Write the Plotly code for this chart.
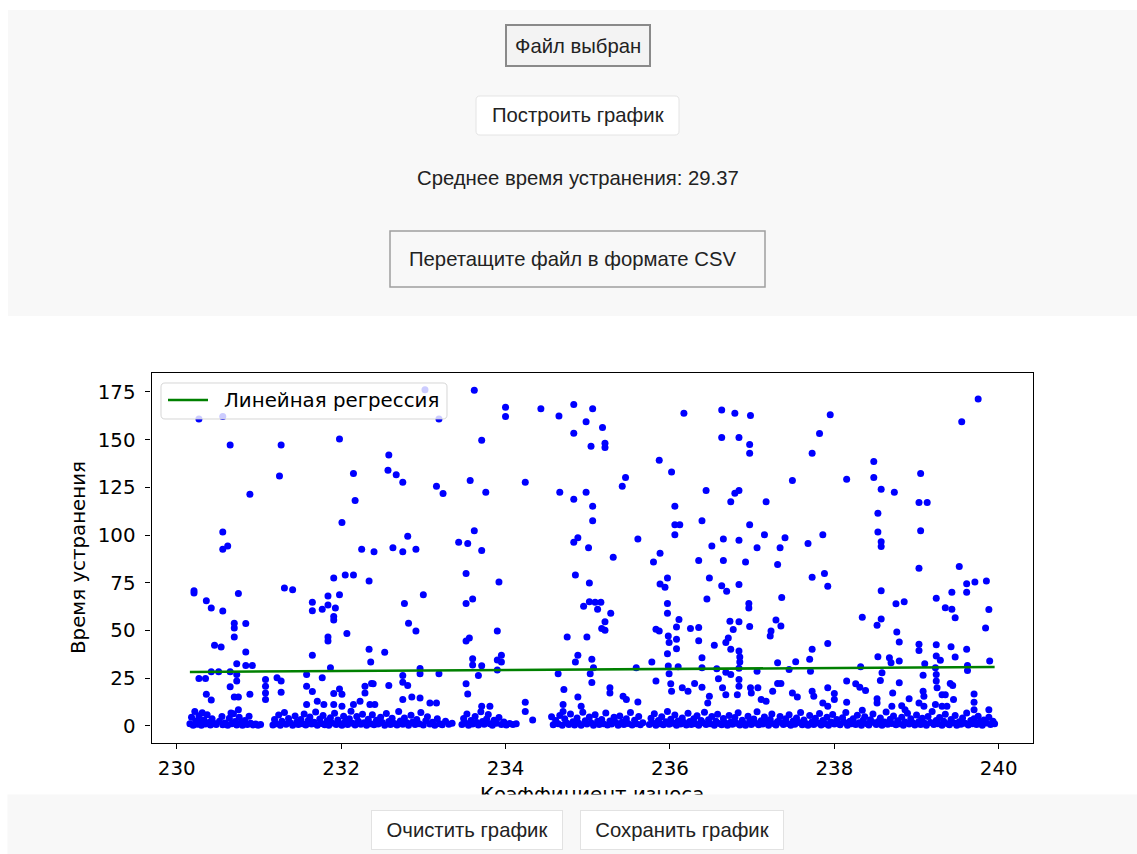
import numpy as np
import plotly.graph_objects as go

W, H = 1137, 854

# Wear coefficient / repair time pairs, upper part of the cloud (time > ~80)
points_top = [
    (230.27, 160.8), (230.56, 162.2), (230.65, 147.2), (231.27, 147.2), (231.98, 150.4),
    (231.25, 130.9), (232.15, 132.3), (230.89, 121.4), (232.17, 118.1), (232.01, 106.5),
    (230.56, 101.6), (230.62, 94.2), (230.56, 92.6), (232.25, 92.6), (232.40, 91.2),
    (233.02, 176.2), (233.62, 175.9), (233.19, 160.8), (234.00, 167.0), (234.00, 162.2),
    (234.43, 166.2), (234.65, 162.4), (234.83, 168.5), (235.06, 166.2), (234.98, 159.4),
    (234.83, 153.4), (235.04, 146.5), (233.71, 149.7), (232.58, 142.0), (232.57, 133.9),
    (232.67, 131.6), (232.75, 127.7), (233.16, 125.6), (233.24, 121.8), (233.57, 128.6),
    (233.76, 122.4), (234.24, 127.7), (234.66, 122.4), (234.83, 118.8), (234.98, 122.4),
    (235.06, 115.1), (235.06, 107.5), (232.81, 99.4), (232.63, 93.3), (232.75, 91.2),
    (232.91, 92.6), (233.43, 96.2), (233.54, 95.5), (233.62, 102.3), (233.71, 91.9),
    (234.83, 96.2), (234.88, 98.6), (235.01, 93.3),
    (235.18, 156.4), (235.21, 148.1), (235.21, 145.9), (236.17, 163.9), (236.63, 165.5),
    (236.79, 163.9), (236.98, 162.7), (236.63, 151.1), (236.84, 151.1), (236.97, 147.5),
    (236.97, 142.9), (237.73, 142.9), (235.87, 139.2), (236.02, 133.0), (235.46, 130.2),
    (235.42, 125.6), (237.49, 128.6), (236.44, 123.4), (236.79, 121.9), (236.84, 123.4),
    (236.74, 117.4), (237.17, 117.4), (236.06, 115.1), (236.06, 105.4), (236.12, 105.4),
    (236.39, 107.5), (236.97, 105.4), (236.06, 100.2), (237.15, 100.2), (237.40, 98.6),
    (235.61, 97.9), (236.65, 97.9), (236.84, 97.2), (236.51, 94.2), (237.06, 93.3),
    (237.34, 93.3), (237.68, 95.5), (235.88, 90.4), (235.80, 85.9), (235.31, 88.4),
    (236.35, 86.7), (236.65, 86.7), (236.92, 85.9), (237.31, 84.5),
    (239.75, 171.3), (239.55, 159.4), (237.95, 163.1), (237.82, 153.2), (238.48, 138.5),
    (238.48, 130.2), (238.15, 129.3), (238.57, 124.0), (238.73, 122.4), (239.05, 132.3),
    (239.03, 117.0), (239.13, 117.0), (238.53, 111.4), (238.53, 101.6), (239.05, 102.3),
    (238.57, 96.5), (238.57, 94.0), (237.86, 100.2), (239.03, 82.6), (239.52, 83.5),
]

# Middle part of the cloud (time ~8..80)
points_mid = [
    (230.21, 70.8), (230.21, 69.6), (230.75, 69.4), (230.36, 65.5), (230.42, 61.7),
    (230.56, 60.1), (230.70, 53.8), (230.70, 51.3), (230.84, 53.6), (230.70, 46.5),
    (230.46, 42.2), (230.54, 41.3), (230.84, 38.6), (230.73, 32.5), (230.84, 31.6),
    (230.92, 31.6), (231.31, 72.2), (231.41, 71.3), (231.91, 77.5), (232.05, 79.1),
    (232.15, 79.1), (232.34, 75.9), (231.84, 68.0), (231.98, 68.7), (231.65, 64.8),
    (231.65, 60.3), (231.77, 61.1), (231.84, 63.3), (231.93, 61.7), (231.91, 57.3),
    (231.91, 55.4), (232.07, 48.3), (231.84, 46.5), (231.84, 44.4), (231.65, 36.9),
    (232.34, 40.1), (232.36, 33.4), (231.87, 30.4),
    (230.27, 24.8), (230.35, 24.8), (230.42, 28.3), (230.51, 28.3), (230.65, 28.3),
    (230.73, 26.9), (230.73, 23.4), (230.65, 20.4), (230.36, 16.5), (230.42, 13.5),
    (230.70, 15.1), (230.75, 15.1), (230.89, 16.5), (231.08, 24.2), (231.08, 20.7),
    (231.08, 17.2), (231.08, 13.7), (231.22, 25.1), (231.27, 23.4), (231.27, 17.6),
    (231.58, 26.9), (231.58, 20.7), (231.65, 17.9), (231.77, 25.1), (231.91, 16.9),
    (232.01, 16.5), (231.98, 19.3), (232.29, 20.7), (232.29, 17.2), (232.37, 22.1),
    (231.58, 11.1), (231.71, 12.8), (231.79, 11.1), (231.91, 11.1), (232.01, 10.2),
    (232.15, 11.1), (232.23, 12.8), (232.35, 11.1), (230.75, 8.4), (230.66, 6.7),
    (233.52, 79.8), (233.92, 75.4), (234.85, 79.1), (235.02, 74.9), (233.00, 68.7),
    (232.77, 64.1), (233.52, 64.1), (233.60, 66.4), (234.95, 62.6), (235.02, 65.0),
    (232.82, 53.8), (232.91, 49.7), (233.90, 49.7), (233.52, 44.4), (233.56, 46.0),
    (234.75, 46.5), (234.99, 46.5), (232.53, 38.5), (233.60, 35.1), (233.60, 31.8),
    (233.90, 34.4), (233.95, 36.9), (233.95, 33.4), (234.88, 36.9), (234.85, 33.4),
    (235.05, 34.8), (233.71, 31.5), (232.96, 30.0), (232.96, 27.3), (233.90, 29.2),
    (232.75, 26.4), (232.75, 22.8), (232.81, 21.1), (233.19, 27.3), (233.67, 26.4),
    (234.64, 27.3), (235.03, 27.3), (235.05, 22.7), (232.39, 22.0), (232.58, 21.1),
    (233.52, 22.0), (233.54, 16.7), (234.71, 19.0), (232.75, 13.7), (232.86, 15.1),
    (232.96, 14.6), (233.08, 11.9), (233.16, 11.9), (232.41, 11.1), (234.24, 12.3),
    (234.24, 7.5), (234.70, 11.1), (234.70, 7.5), (234.88, 15.1), (234.92, 10.2),
    (233.71, 10.2), (233.81, 10.2), (234.33, 3.0), (234.56, 4.7),
    (235.88, 74.3), (235.97, 77.5), (235.94, 72.6), (236.48, 77.5), (236.63, 73.4),
    (236.69, 70.5), (236.84, 74.0), (237.36, 67.2), (237.73, 77.9), (236.45, 66.4),
    (235.09, 64.7), (235.16, 64.7), (235.12, 61.1), (235.28, 59.0), (235.97, 64.1),
    (235.97, 59.0), (236.96, 64.1), (236.96, 61.7), (235.21, 54.5), (235.17, 51.0),
    (235.21, 50.1), (236.11, 55.7), (236.08, 51.8), (235.83, 50.6), (235.87, 49.7),
    (236.25, 51.0), (236.35, 51.5), (236.35, 44.6), (236.73, 54.8), (236.84, 54.5),
    (236.77, 50.4), (236.97, 52.0), (237.29, 55.4), (237.35, 52.3), (237.23, 49.7),
    (237.22, 47.1), (235.98, 47.1), (235.99, 43.6), (236.08, 45.3), (236.08, 40.4),
    (235.97, 37.8), (236.54, 42.2), (236.71, 46.0), (236.68, 43.6), (236.74, 40.1),
    (236.84, 39.2), (236.85, 36.0), (236.85, 33.4), (236.84, 30.2), (236.39, 35.7),
    (235.78, 33.4), (237.73, 40.1), (237.70, 34.8), (237.31, 33.0), (237.45, 29.5),
    (237.53, 33.6), (235.59, 30.4), (235.98, 31.3), (235.99, 27.3), (236.10, 30.9),
    (236.39, 30.4), (236.57, 29.9), (236.59, 24.6), (236.68, 28.1), (236.74, 26.9),
    (237.06, 28.6), (235.07, 30.4), (235.83, 23.4), (236.01, 22.0), (236.02, 18.1),
    (236.15, 19.9), (236.22, 18.1), (236.30, 22.1), (236.39, 20.2), (236.64, 19.9),
    (236.68, 16.3), (236.84, 24.2), (236.84, 20.7), (236.82, 16.3), (236.98, 19.9),
    (236.99, 17.2), (237.07, 19.9), (235.27, 19.9), (235.27, 17.2), (235.43, 15.4),
    (235.47, 13.7), (235.61, 12.5), (237.31, 22.1), (237.35, 22.1), (237.25, 18.1),
    (237.49, 17.2), (237.55, 15.1), (237.11, 13.7), (237.17, 12.8), (236.48, 15.4),
    (236.46, 11.9),
    (237.88, 79.8), (237.92, 73.1), (239.61, 74.5), (239.71, 75.4), (239.85, 75.9),
    (239.61, 70.0), (239.43, 70.0), (238.57, 70.8), (238.75, 63.9), (238.85, 65.0),
    (239.24, 66.9), (239.35, 61.8), (239.43, 61.1), (239.47, 56.6), (239.88, 61.0),
    (239.84, 51.3), (238.34, 56.9), (238.57, 55.9), (238.52, 52.7), (238.76, 49.2),
    (238.79, 43.9), (237.92, 43.1), (239.03, 42.7), (239.03, 39.4), (239.24, 42.5),
    (239.24, 36.5), (239.29, 34.3), (239.42, 41.4), (239.61, 40.1), (239.47, 36.0),
    (238.53, 36.2), (238.67, 35.7), (238.69, 33.0), (238.79, 33.9), (239.89, 34.0),
    (239.62, 31.6), (239.62, 29.0), (238.32, 30.9), (239.10, 32.5), (239.08, 26.5),
    (239.23, 30.4), (239.24, 26.9), (239.24, 23.4), (239.25, 19.9), (238.58, 27.8),
    (238.56, 23.7), (237.71, 28.6), (238.15, 23.4), (238.26, 22.0), (238.31, 20.2),
    (238.38, 18.5), (238.79, 22.5), (239.41, 22.1), (239.44, 21.1), (237.92, 19.9),
    (238.71, 17.2), (239.08, 18.1), (239.09, 15.4), (239.31, 16.3), (239.35, 16.3),
    (239.70, 16.7), (239.70, 12.3), (239.88, 8.4), (238.00, 16.9), (238.00, 13.7),
    (237.73, 18.1), (237.75, 15.4), (238.52, 14.1), (238.52, 11.9), (238.91, 14.1),
    (238.15, 12.3), (237.86, 11.9), (237.92, 10.2), (239.03, 11.9), (239.09, 10.2),
    (239.23, 11.1), (239.31, 10.2), (239.37, 10.2), (239.45, 13.7), (238.70, 10.2),
    (238.82, 10.5), (238.86, 8.4), (238.34, 8.1), (239.70, 8.4),
]

# Dense band of short repairs (time ~0..8)
points_band = [
    (230.16, 1.0), (230.18, 4.5), (230.20, 0.3), (230.22, 7.5), (230.23, 2.5), (230.25, 0.8),
    (230.27, 5.2), (230.28, 1.9), (230.30, 0.2), (230.31, 6.8), (230.33, 3.0), (230.35, 0.9),
    (230.37, 5.8), (230.39, 1.7), (230.41, 0.4), (230.43, 3.6), (230.46, 1.2), (230.48, 0.6),
    (230.52, 2.3), (230.55, 4.8), (230.56, 0.5), (230.59, 1.4), (230.62, 0.3), (230.64, 3.9),
    (230.67, 1.0), (230.69, 6.3), (230.71, 2.2), (230.73, 0.4), (230.76, 4.4), (230.78, 1.6),
    (230.80, 0.2), (230.83, 2.8), (230.86, 0.7), (230.88, 5.0), (230.90, 1.3), (230.93, 0.4),
    (230.96, 0.9), (230.99, 0.3), (231.02, 0.6),
    (231.17, 0.4), (231.19, 3.3), (231.21, 1.1), (231.24, 5.6), (231.26, 0.2), (231.28, 2.4),
    (231.31, 7.0), (231.33, 0.8), (231.36, 3.8), (231.38, 1.5), (231.41, 0.3), (231.44, 5.1),
    (231.46, 2.0), (231.48, 0.6), (231.51, 3.2), (231.53, 1.0), (231.55, 6.2), (231.57, 0.4),
    (231.60, 2.7), (231.62, 4.6), (231.64, 0.9), (231.67, 1.8), (231.69, 7.2), (231.71, 0.3),
    (231.74, 3.5), (231.76, 1.2), (231.78, 5.4), (231.80, 0.5), (231.83, 2.6), (231.85, 0.2),
    (231.87, 4.2), (231.89, 1.4), (231.92, 6.6), (231.94, 0.7), (231.96, 3.0), (231.99, 1.1),
    (232.01, 0.3), (232.03, 5.0), (232.05, 2.1), (232.08, 0.6), (232.10, 3.7), (232.12, 7.6),
    (232.14, 1.3), (232.17, 0.4), (232.19, 4.9), (232.21, 2.3), (232.24, 0.8), (232.26, 6.0),
    (232.28, 1.6), (232.31, 0.2), (232.33, 3.4), (232.36, 1.0), (232.38, 5.7), (232.40, 0.5),
    (232.43, 2.9), (232.45, 0.9), (232.48, 4.5), (232.50, 1.7), (232.53, 0.3), (232.55, 6.4),
    (232.58, 2.2), (232.60, 0.6), (232.62, 3.9), (232.65, 1.2), (232.68, 0.4), (232.70, 7.4),
    (232.72, 2.5), (232.75, 0.8), (232.77, 4.0), (232.80, 1.5), (232.82, 0.2), (232.85, 5.5),
    (232.87, 2.0), (232.90, 0.7), (232.92, 3.3), (232.95, 1.1), (232.97, 6.9), (233.00, 0.4),
    (233.03, 2.6), (233.05, 4.7), (233.08, 0.9), (233.11, 1.8), (233.14, 0.3), (233.17, 3.6),
    (233.20, 1.0), (233.23, 0.5), (233.27, 2.4), (233.31, 0.8), (233.35, 1.3),
    (233.47, 0.6), (233.49, 3.8), (233.51, 1.4), (233.53, 6.1), (233.55, 0.3), (233.58, 2.7),
    (233.60, 0.9), (233.63, 4.9), (233.65, 1.7), (233.67, 0.4), (233.70, 7.3), (233.72, 2.2),
    (233.74, 0.8), (233.77, 3.5), (233.79, 5.9), (233.81, 1.1), (233.84, 0.3), (233.86, 2.9),
    (233.89, 1.3), (233.92, 4.3), (233.95, 0.6), (233.98, 1.9), (234.01, 0.4), (234.05, 1.2),
    (234.09, 0.7), (234.13, 1.0),
    (234.58, 0.5), (234.61, 2.8), (234.64, 1.0), (234.66, 5.3), (234.69, 0.3), (234.72, 3.6),
    (234.74, 1.6), (234.77, 0.7), (234.79, 6.2), (234.82, 2.1), (234.84, 0.4), (234.87, 4.1),
    (234.89, 1.3), (234.92, 0.2), (234.94, 7.1), (234.97, 2.6), (234.99, 0.9), (235.02, 4.6),
    (235.04, 1.5), (235.07, 0.3), (235.09, 5.8), (235.12, 2.3), (235.14, 0.7), (235.17, 3.3),
    (235.19, 1.1), (235.22, 6.7), (235.24, 0.4), (235.27, 2.5), (235.29, 0.9), (235.32, 4.4),
    (235.34, 1.8), (235.37, 0.3), (235.39, 5.1), (235.42, 2.0), (235.44, 0.6), (235.47, 3.7),
    (235.49, 1.2), (235.52, 7.0), (235.54, 0.4), (235.57, 2.9), (235.59, 1.0), (235.62, 4.8),
    (235.64, 0.5), (235.67, 1.6),
    (235.75, 0.6), (235.77, 3.9), (235.79, 1.4), (235.81, 6.3), (235.83, 0.2), (235.86, 2.8),
    (235.88, 1.0), (235.90, 4.7), (235.92, 0.5), (235.95, 2.1), (235.97, 7.4), (235.99, 0.8),
    (236.01, 3.4), (236.04, 1.3), (236.06, 5.6), (236.08, 0.3), (236.10, 2.5), (236.13, 0.9),
    (236.15, 4.0), (236.17, 1.7), (236.20, 0.4), (236.22, 6.5), (236.24, 2.2), (236.26, 0.7),
    (236.29, 3.6), (236.31, 1.1), (236.33, 5.2), (236.35, 0.2), (236.38, 2.7), (236.40, 1.5),
    (236.42, 7.1), (236.44, 0.6), (236.47, 3.1), (236.49, 1.0), (236.51, 4.9), (236.54, 0.3),
    (236.56, 2.4), (236.58, 6.0), (236.60, 1.2), (236.63, 0.5), (236.65, 3.8), (236.67, 1.6),
    (236.70, 0.2), (236.72, 5.4), (236.74, 2.0), (236.76, 0.8), (236.79, 4.3), (236.81, 1.3),
    (236.83, 6.8), (236.85, 0.4), (236.88, 2.9), (236.90, 1.1), (236.92, 0.3), (236.95, 5.0),
    (236.97, 2.3), (236.99, 0.7), (237.02, 3.5), (237.04, 1.4), (237.06, 7.3), (237.08, 0.5),
    (237.11, 2.6), (237.13, 0.9), (237.15, 4.6), (237.18, 1.8), (237.20, 0.3), (237.22, 3.2),
    (237.24, 6.1), (237.27, 1.0), (237.29, 0.4), (237.31, 2.2), (237.34, 4.8), (237.36, 1.5),
    (237.38, 0.6), (237.41, 3.7), (237.43, 1.2), (237.45, 5.7), (237.47, 0.2), (237.50, 2.5),
    (237.52, 0.8), (237.54, 4.1), (237.57, 1.7), (237.59, 7.0), (237.61, 0.5), (237.63, 3.0),
    (237.66, 1.1), (237.68, 0.3), (237.70, 5.3), (237.73, 2.1), (237.75, 0.7), (237.77, 3.9),
    (237.80, 1.4), (237.82, 6.4), (237.84, 0.4), (237.86, 2.7), (237.89, 1.0), (237.91, 4.5),
    (237.93, 0.2), (237.96, 2.0), (237.98, 5.9), (238.00, 0.9), (238.03, 3.3), (238.05, 1.3),
    (238.07, 0.5), (238.10, 4.2), (238.12, 1.8), (238.14, 6.9), (238.16, 0.3), (238.19, 2.4),
    (238.21, 1.1), (238.23, 3.6), (238.26, 0.6), (238.28, 5.5), (238.30, 1.6), (238.33, 0.2),
    (238.35, 2.9), (238.37, 4.7), (238.40, 1.0), (238.42, 0.4), (238.44, 3.1), (238.47, 6.2),
    (238.49, 1.5), (238.51, 0.7), (238.54, 2.3), (238.56, 4.0), (238.58, 0.3), (238.61, 1.9),
    (238.63, 7.2), (238.65, 0.8), (238.68, 3.4), (238.70, 1.2), (238.72, 5.1), (238.75, 0.5),
    (238.77, 2.6), (238.79, 1.0), (238.82, 4.4), (238.84, 0.2), (238.86, 2.0), (238.89, 6.6),
    (238.91, 0.9), (238.93, 3.7), (238.96, 1.4), (238.98, 0.4), (239.00, 5.6), (239.03, 2.2),
    (239.05, 0.7), (239.07, 3.9), (239.10, 1.3), (239.12, 0.3), (239.14, 4.9), (239.17, 1.7),
    (239.19, 7.5), (239.21, 0.6), (239.24, 2.8), (239.26, 1.0), (239.28, 4.3), (239.31, 0.2),
    (239.33, 2.4), (239.35, 6.0), (239.38, 1.1), (239.40, 0.5), (239.42, 3.2), (239.45, 1.6),
    (239.47, 5.3), (239.49, 0.3), (239.52, 2.1), (239.54, 0.8), (239.56, 4.1), (239.59, 1.3),
    (239.61, 6.7), (239.63, 0.4), (239.66, 2.7), (239.68, 1.0), (239.70, 3.6), (239.73, 0.6),
    (239.75, 5.0), (239.77, 1.9), (239.80, 0.2), (239.82, 3.0), (239.85, 1.4), (239.88, 4.4),
    (239.90, 0.7), (239.93, 2.3), (239.95, 1.0),
]

# Linear regression of repair time on wear coefficient
reg_slope = 0.265
reg_intercept = -32.79
mean_repair_time = 29.37

x_ticks = [230, 232, 234, 236, 238, 240]
y_ticks = [0, 25, 50, 75, 100, 125, 150, 175]

points = points_top + points_mid + points_band
wear = np.array([p[0] for p in points])
repair_time = np.array([p[1] for p in points])
x_fit = np.array([wear.min(), wear.max()])
y_fit = reg_intercept + reg_slope * x_fit


def px(x):
    return x / W


def py(y):
    return 1 - y / H


def rounded_rect(x0, y0, x1, y1, r):
    pts = [
        ("M", x0 + r, y0), ("L", x1 - r, y0), ("Q", x1, y0, x1, y0 + r),
        ("L", x1, y1 - r), ("Q", x1, y1, x1 - r, y1), ("L", x0 + r, y1),
        ("Q", x0, y1, x0, y1 - r), ("L", x0, y0 + r), ("Q", x0, y0, x0 + r, y0),
    ]
    parts = []
    for seg in pts:
        if seg[0] == "Q":
            parts.append(f"Q{px(seg[1]):.6f},{py(seg[2]):.6f} {px(seg[3]):.6f},{py(seg[4]):.6f}")
        else:
            parts.append(f"{seg[0]}{px(seg[1]):.6f},{py(seg[2]):.6f}")
    return " ".join(parts) + " Z"


MPL_FONT = "DejaVu Sans"
MPL_SIZE = 19.8
UI_FONT = "Liberation Sans, Arial, sans-serif"
UI_SIZE = 20.3
UI_COLOR = "#222222"
PANEL = "#f8f8f8"

fig = go.Figure()
fig.add_trace(go.Scatter(
    x=wear, y=repair_time, mode="markers",
    marker=dict(color="#0000ff", size=7, line=dict(width=0)),
    showlegend=False, hoverinfo="skip",
))
fig.add_trace(go.Scatter(
    x=x_fit, y=y_fit, mode="lines",
    line=dict(color="#008000", width=2.6),
    name="Линейная регрессия", showlegend=False, hoverinfo="skip",
))

shapes = [
    # top control panel
    dict(type="rect", xref="paper", yref="paper", x0=px(8), x1=px(1137), y0=py(316), y1=py(10),
         fillcolor=PANEL, line=dict(width=0), layer="below"),
    # file input button
    dict(type="rect", xref="paper", yref="paper", x0=px(506), x1=px(650), y0=py(66), y1=py(25),
         fillcolor="#f3f3f3", line=dict(color="#8a8a8a", width=2), layer="below"),
    # build button
    dict(type="path", xref="paper", yref="paper", path=rounded_rect(476, 96, 679, 135, 4),
         fillcolor="#ffffff", line=dict(color="#e4e4e4", width=1), layer="below"),
    # drop zone
    dict(type="rect", xref="paper", yref="paper", x0=px(390), x1=px(765), y0=py(287), y1=py(231),
         fillcolor=PANEL, line=dict(color="#9f9f9f", width=1.5), layer="below"),
    # legend box
    dict(type="path", xref="paper", yref="paper", path=rounded_rect(161, 383, 447, 419, 4),
         fillcolor="rgba(255,255,255,0.8)", line=dict(color="rgba(204,204,204,0.8)", width=1),
         layer="above"),
    dict(type="line", xref="paper", yref="paper", x0=px(168), x1=px(208), y0=py(400), y1=py(400),
         line=dict(color="#008000", width=2.6), layer="above"),
]

annotations = [
    dict(text="Файл выбран", x=px(578), y=py(46), font=dict(family=UI_FONT, size=UI_SIZE, color=UI_COLOR)),
    dict(text="Построить график", x=px(578), y=py(115), font=dict(family=UI_FONT, size=UI_SIZE, color=UI_COLOR)),
    dict(text=f"Среднее время устранения: {mean_repair_time}", x=px(578), y=py(178),
         font=dict(family=UI_FONT, size=UI_SIZE, color=UI_COLOR)),
    dict(text="Перетащите файл в формате CSV", x=px(407), y=py(259), xanchor="left",
         font=dict(family=UI_FONT, size=UI_SIZE, color=UI_COLOR)),
    dict(text="Линейная регрессия", x=px(222), y=py(400), xanchor="left",
         font=dict(family=MPL_FONT, size=MPL_SIZE, color="#000000")),
    dict(text="Время устранения", x=px(78), y=py(558), textangle=-90,
         font=dict(family=MPL_FONT, size=MPL_SIZE, color="#000000")),
    dict(text="Коэффициент износа", x=px(592), y=py(794),
         font=dict(family=MPL_FONT, size=MPL_SIZE, color="#000000")),
    # bottom control panel, drawn over the lower part of the axis title
    dict(text=" ", x=px(572.5), y=py(824.5), width=1129, height=59, bgcolor=PANEL, borderpad=0,
         font=dict(size=4)),
    dict(text="Очистить график", x=px(467), y=py(830), width=190, height=38, bgcolor="#ffffff",
         bordercolor="#e2e2e2", borderwidth=1, borderpad=0,
         font=dict(family=UI_FONT, size=UI_SIZE, color=UI_COLOR)),
    dict(text="Сохранить график", x=px(682), y=py(830), width=202, height=38, bgcolor="#ffffff",
         bordercolor="#e2e2e2", borderwidth=1, borderpad=0,
         font=dict(family=UI_FONT, size=UI_SIZE, color=UI_COLOR)),
]
for a in annotations:
    a.setdefault("xref", "paper")
    a.setdefault("yref", "paper")
    a.setdefault("showarrow", False)
    a.setdefault("xanchor", "center")
    a.setdefault("yanchor", "middle")

axis_common = dict(
    showline=True, mirror=True, linecolor="#000000", linewidth=1.1,
    ticks="outside", ticklen=5, tickwidth=1.1, tickcolor="#000000",
    showgrid=False, zeroline=False,
    tickfont=dict(family=MPL_FONT, size=MPL_SIZE, color="#000000"),
)

fig.update_layout(
    width=W, height=H, autosize=False,
    margin=dict(l=0, r=0, t=0, b=0),
    paper_bgcolor="#ffffff", plot_bgcolor="#ffffff",
    xaxis=dict(domain=[px(151.5), px(1033)], range=[229.693, 240.417],
               tickvals=x_ticks, ticktext=[str(v) for v in x_ticks],
               ticklabelstandoff=2, **axis_common),
    yaxis=dict(domain=[py(742.7), py(373.3)], range=[-8.9, 184.8],
               tickvals=y_ticks, ticktext=[str(v) for v in y_ticks],
               ticklabelstandoff=6, **axis_common),
    shapes=shapes,
    annotations=annotations,
    showlegend=False,
)

fig.write_html("out.html", config={"displayModeBar": False})
